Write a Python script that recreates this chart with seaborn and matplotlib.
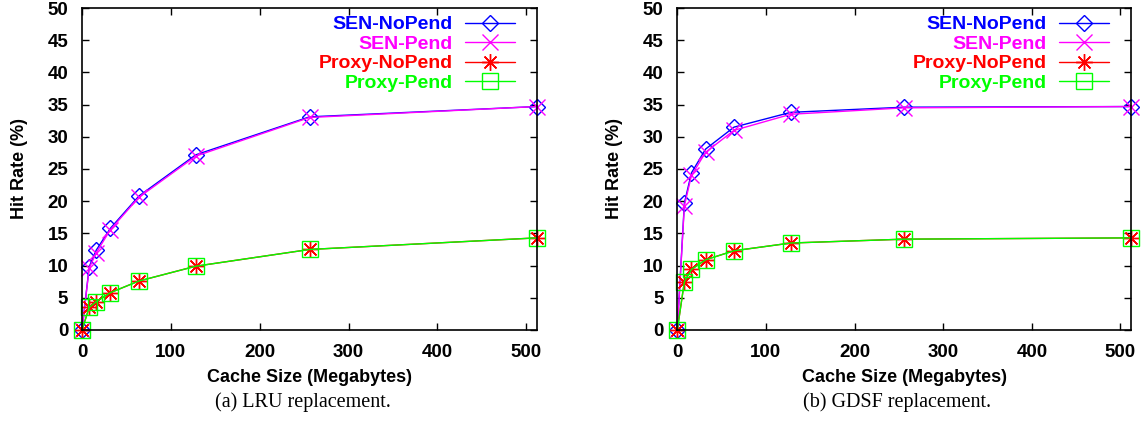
import pandas as pd
import matplotlib
matplotlib.use("Agg")
import matplotlib.pyplot as plt
import seaborn as sns

sns.set_style("ticks")
plt.rcParams['font.family'] = ['Liberation Sans', 'DejaVu Sans']
plt.rcParams.update({'xtick.color': 'black', 'ytick.color': 'black',
                     'text.color': 'black', 'axes.labelcolor': 'black'})

# cache sizes (MB)
cache_sizes = [0, 8, 16, 32, 64, 128, 256, 512]

# LRU replacement
lru_sen_nopend = [0, 9.8, 12.4, 15.8, 20.8, 27.2, 33.1, 34.7]
lru_sen_pend = [0, 9.6, 12.0, 15.6, 20.6, 27.0, 33.0, 34.7]
lru_proxy_nopend = [0, 3.5, 4.4, 5.8, 7.6, 9.9, 12.5, 14.3]
lru_proxy_pend = [0, 3.5, 4.4, 5.8, 7.6, 9.9, 12.5, 14.3]

# GDSF replacement
gdsf_sen_nopend = [0, 19.7, 24.4, 28.1, 31.5, 33.8, 34.6, 34.7]
gdsf_sen_pend = [0, 19.3, 24.0, 27.6, 31.0, 33.5, 34.5, 34.7]
gdsf_proxy_nopend = [0, 7.5, 9.4, 10.9, 12.3, 13.5, 14.1, 14.3]
gdsf_proxy_pend = [0, 7.5, 9.4, 10.9, 12.3, 13.5, 14.1, 14.3]

series_names = ["SEN-NoPend", "SEN-Pend", "Proxy-NoPend", "Proxy-Pend"]
colors = ["#0000ff", "#ff00ff", "#ff0000", "#00ff00"]
markers = ["D", "x", (8, 2, 0), "s"]
msizes = [8, 11, 12, 11]

panels = [
    ("(a) LRU replacement.", [lru_sen_nopend, lru_sen_pend, lru_proxy_nopend, lru_proxy_pend]),
    ("(b) GDSF replacement.", [gdsf_sen_nopend, gdsf_sen_pend, gdsf_proxy_nopend, gdsf_proxy_pend]),
]

fig = plt.figure(figsize=(11.46, 4.23), dpi=100)
axes_pos = [[0.0716, 0.22, 0.397, 0.761], [0.591, 0.22, 0.396, 0.761]]

for pos, (caption, values) in zip(axes_pos, panels):
    ax = fig.add_axes(pos)
    for name, vals, c, m, ms in zip(series_names, values, colors, markers, msizes):
        df = pd.DataFrame({"size": cache_sizes, "hit": vals})
        sns.lineplot(data=df, x="size", y="hit", ax=ax, color=c, marker=m,
                     markersize=ms, markerfacecolor="none", markeredgecolor=c,
                     markeredgewidth=1.0, linewidth=1.0, label=name, clip_on=False)
    ax.set_xlim(0, 512)
    ax.set_ylim(0, 50)
    ax.set_xticks(range(0, 501, 100))
    ax.set_yticks(range(0, 51, 5))
    ax.tick_params(axis="both", direction="in", top=True, right=True, length=5,
                   width=1, labelsize=13.5)
    ax.tick_params(axis="x", pad=10)
    ax.tick_params(axis="y", pad=10)
    for lab in ax.get_xticklabels() + ax.get_yticklabels():
        lab.set_fontweight("bold")
    for sp in ax.spines.values():
        sp.set_linewidth(1.2)
        sp.set_color("black")
    ax.set_xlabel("Cache Size (Megabytes)", fontsize=13, fontweight="bold", labelpad=6)
    ax.set_ylabel("Hit Rate (%)", fontsize=13, fontweight="bold", labelpad=14)
    ax.legend(loc="upper right", bbox_to_anchor=(0.952, 0.976), frameon=False,
              markerfirst=False, labelcolor="linecolor", handlelength=2.6,
              handletextpad=0.6, labelspacing=0.1, borderaxespad=0, borderpad=0,
              prop={"weight": "bold", "size": 14})
    # caption below each panel, in figure coords
    fig.text(pos[0] + pos[2] / 2 - 0.006, 0.05, caption, ha="center", va="center",
             fontsize=14.5, family="Liberation Serif")

fig.savefig("out.png", dpi=100)
